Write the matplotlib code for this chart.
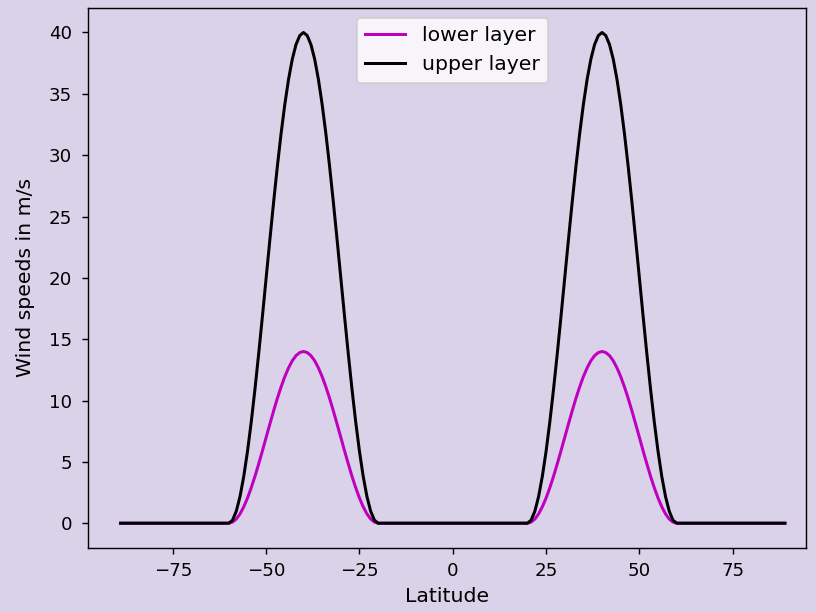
import matplotlib
matplotlib.use("Agg")
import matplotlib.pyplot as plt

latitude = [-89, -60, -59, -58, -57, -56, -55, -54, -53, -52, -51, -50,
            -49, -48, -47, -46, -45, -44, -43, -42, -41, -40,
            -39, -38, -37, -36, -35, -34, -33, -32, -31, -30,
            -29, -28, -27, -26, -25, -24, -23, -22, -21, -20,
            20, 21, 22, 23, 24, 25, 26, 27, 28, 29, 30,
            31, 32, 33, 34, 35, 36, 37, 38, 39, 40,
            41, 42, 43, 44, 45, 46, 47, 48, 49, 50,
            51, 52, 53, 54, 55, 56, 57, 58, 59, 60, 89]

# lower layer wind speed (m/s)
lower_layer = [0, 0, 0.09, 0.34, 0.76, 1.34, 2.05, 2.89, 3.82, 4.84, 5.90, 7.0,
               8.09, 9.16, 10.18, 11.11, 11.95, 12.66, 13.24, 13.66, 13.91, 14.0,
               13.91, 13.66, 13.24, 12.66, 11.95, 11.11, 10.18, 9.16, 8.09, 7.0,
               5.90, 4.84, 3.82, 2.89, 2.05, 1.34, 0.76, 0.34, 0.09, 0,
               0, 0.09, 0.34, 0.76, 1.34, 2.05, 2.89, 3.82, 4.84, 5.90, 7.0,
               8.09, 9.16, 10.18, 11.11, 11.95, 12.66, 13.24, 13.66, 13.91, 14.0,
               13.91, 13.66, 13.24, 12.66, 11.95, 11.11, 10.18, 9.16, 8.09, 7.0,
               5.90, 4.84, 3.82, 2.89, 2.05, 1.34, 0.76, 0.34, 0.09, 0, 0]

# upper layer wind speed (m/s)
upper_layer = [0, 0, 0.25, 0.98, 2.18, 3.82, 5.86, 8.24, 10.92, 13.82, 16.87, 20.0,
               23.13, 26.18, 29.08, 31.76, 34.14, 36.18, 37.82, 39.02, 39.75, 40.0,
               39.75, 39.02, 37.82, 36.18, 34.14, 31.76, 29.08, 26.18, 23.13, 20.0,
               16.87, 13.82, 10.92, 8.24, 5.86, 3.82, 2.18, 0.98, 0.25, 0,
               0, 0.25, 0.98, 2.18, 3.82, 5.86, 8.24, 10.92, 13.82, 16.87, 20.0,
               23.13, 26.18, 29.08, 31.76, 34.14, 36.18, 37.82, 39.02, 39.75, 40.0,
               39.75, 39.02, 37.82, 36.18, 34.14, 31.76, 29.08, 26.18, 23.13, 20.0,
               16.87, 13.82, 10.92, 8.24, 5.86, 3.82, 2.18, 0.98, 0.25, 0, 0]

bg = "#d9d2e9"

fig, ax = plt.subplots(figsize=(6.4, 4.8), dpi=127.5)
fig.patch.set_facecolor(bg)
ax.set_facecolor(bg)

ax.plot(latitude, lower_layer, color="m", lw=1.7, label="lower layer")
ax.plot(latitude, upper_layer, color="k", lw=1.7, label="upper layer")

ax.set_xlim(-97.7, 94.7)
ax.set_xlabel("Latitude", fontsize=11.5)
ax.set_ylabel("Wind speeds in m/s", fontsize=11.5, labelpad=8)
ax.tick_params(labelsize=10.3)
ax.tick_params(axis="x", pad=4.5)
ax.tick_params(axis="y", pad=5.5)
ax.legend(loc="upper center", bbox_to_anchor=(0.507, 1.0), fontsize=11.5)

fig.subplots_adjust(left=0.108, right=0.988, top=0.987, bottom=0.105)
fig.savefig("out.png", facecolor=bg)
